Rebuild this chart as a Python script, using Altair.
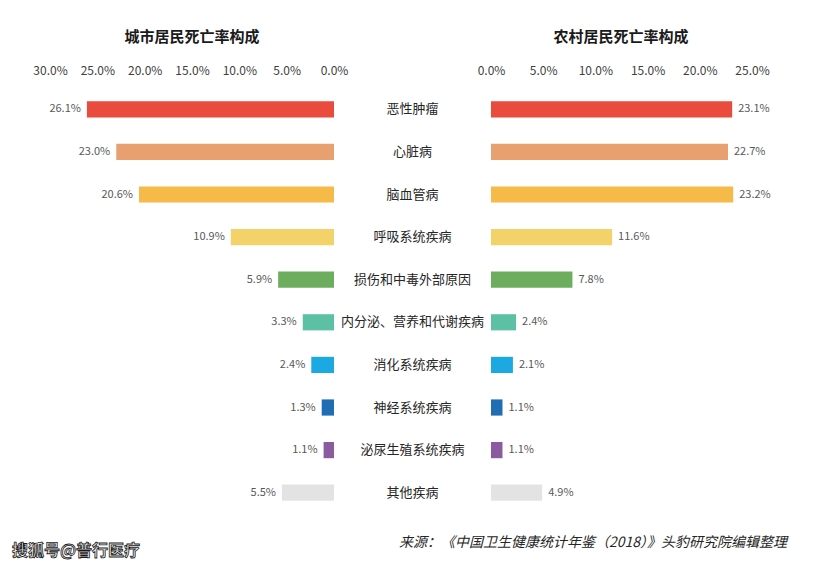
import altair as alt
import pandas as pd

categories = ["恶性肿瘤", "心脏病", "脑血管病", "呼吸系统疾病", "损伤和中毒外部原因",
              "内分泌、营养和代谢疾病", "消化系统疾病", "神经系统疾病", "泌尿生殖系统疾病", "其他疾病"]
urban = [26.1, 23.0, 20.6, 10.9, 5.9, 3.3, 2.4, 1.3, 1.1, 5.5]
rural = [23.1, 22.7, 23.2, 11.6, 7.8, 2.4, 2.1, 1.1, 1.1, 4.9]
colors = ["#E94B3C", "#E9A070", "#F5BA48", "#F3D26A", "#6DAE5E",
          "#5CC1A4", "#1CA9E2", "#1F6DB2", "#8A5C9F", "#E3E3E3"]
left_ticks = [0.0, 0.05, 0.10, 0.15, 0.20, 0.25, 0.30]
right_ticks = [0.0, 0.05, 0.10, 0.15, 0.20, 0.25]
title_left = "城市居民死亡率构成"
title_right = "农村居民死亡率构成"
source_text = "来源：《中国卫生健康统计年鉴（2018）》头豹研究院编辑整理"
mark_text = "搜狐号@普行医疗"

df = pd.DataFrame({
    "cat": categories,
    "urban": [v / 100 for v in urban],
    "rural": [v / 100 for v in rural],
    "ulabel": [f"{v:.1f}%" for v in urban],
    "rlabel": [f"{v:.1f}%" for v in rural],
})

H = 426
FONT = "Noto Sans CJK SC"

yenc = alt.Y("cat:N", sort=categories, axis=None,
             scale=alt.Scale(paddingInner=0.62, paddingOuter=0.31))
cenc = alt.Color("cat:N", scale=alt.Scale(domain=categories, range=colors), legend=None)

def xaxis(ticks):
    return alt.Axis(orient="top", values=ticks, format=".1%", domain=False, ticks=False,
                    grid=False, labelPadding=11, labelFontSize=12, labelColor="#404040",
                    labelFont=FONT, title=None, labelOverlap=False, labelFlush=False)

one = pd.DataFrame({"k": [0]})

# Left (urban)
lx = alt.X("urban:Q", scale=alt.Scale(domain=[0, 0.30], reverse=True, nice=False),
           axis=xaxis(left_ticks))
base_l = alt.Chart(df).encode(y=yenc)
bars_l = base_l.mark_bar().encode(x=lx, color=cenc)
labels_l = base_l.mark_text(align="right", dx=-6, fontSize=11, color="#595959", font=FONT).encode(
    x=alt.X("urban:Q", scale=alt.Scale(domain=[0, 0.30], reverse=True, nice=False)),
    text="ulabel:N")
tl = alt.Chart(pd.DataFrame({"t": [title_left]})).mark_text(
    fontSize=15, fontWeight="bold", color="#1a1a1a", font=FONT, baseline="middle").encode(
    x=alt.value(142), y=alt.value(-51), text="t:N")
wm = alt.Chart(pd.DataFrame({"t": [mark_text]})).mark_text(
    fontSize=16, fontWeight="bold", fill="#f0f0f0", stroke="#1a1a1a", strokeWidth=0.8,
    font=FONT, align="left", baseline="middle").encode(
    x=alt.value(-38), y=alt.value(463), text="t:N")
# invisible frame fixing the page bounds (825 x 569)
frame_top = alt.Chart(one).mark_rule(strokeOpacity=0, strokeWidth=0).encode(
    x=alt.value(-50), x2=alt.value(775), y=alt.value(-88))
frame_bot = alt.Chart(one).mark_rule(strokeOpacity=0, strokeWidth=0).encode(
    x=alt.value(-50), x2=alt.value(775), y=alt.value(481))
left = alt.layer(bars_l, labels_l, tl, wm, frame_top, frame_bot).properties(width=284, height=H)

# Middle (categories)
mid = alt.Chart(df).mark_text(fontSize=13, color="#262626", font=FONT).encode(
    y=yenc, x=alt.value(78.5), text="cat:N").properties(width=157, height=H)

# Right (rural)
rx = alt.X("rural:Q", scale=alt.Scale(domain=[0, 0.25], nice=False), axis=xaxis(right_ticks))
base_r = alt.Chart(df).encode(y=yenc)
bars_r = base_r.mark_bar().encode(x=rx, color=cenc)
labels_r = base_r.mark_text(align="left", dx=6, fontSize=11, color="#595959", font=FONT).encode(
    x=alt.X("rural:Q", scale=alt.Scale(domain=[0, 0.25], nice=False)),
    text="rlabel:N")
tr = alt.Chart(pd.DataFrame({"t": [title_right]})).mark_text(
    fontSize=15, fontWeight="bold", color="#1a1a1a", font=FONT, baseline="middle").encode(
    x=alt.value(130), y=alt.value(-51), text="t:N")
src = alt.Chart(pd.DataFrame({"t": [source_text]})).mark_text(
    fontSize=14, fontStyle="italic", color="#262626", font=FONT, align="right",
    baseline="middle").encode(x=alt.value(296), y=alt.value(455), text="t:N")
right = alt.layer(bars_r, labels_r, tr, src).properties(width=261, height=H)

chart = alt.hconcat(left, mid, right, spacing=0, bounds="flush").properties(
    padding=0,
    background="white",
).configure_view(stroke=None).resolve_scale(y="shared", color="shared")

chart.save("out.html", embed_options={"renderer": "svg", "actions": False})
